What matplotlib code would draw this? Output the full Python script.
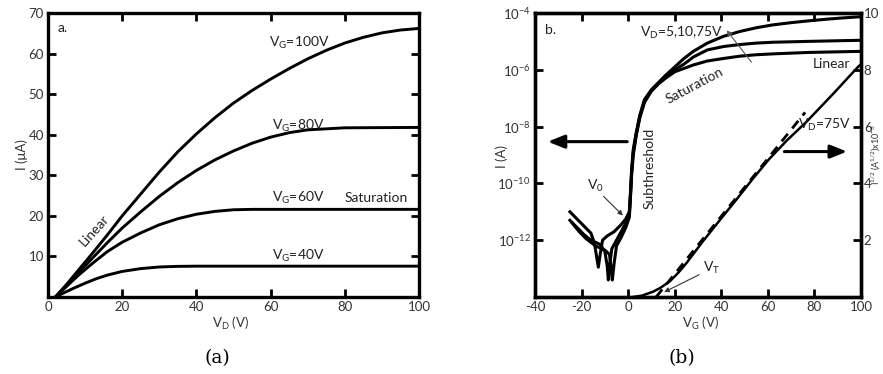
import matplotlib
matplotlib.use('Agg')
import matplotlib.pyplot as plt
import numpy as np

plt.rcParams['font.family'] = ['Lato', 'DejaVu Sans']
plt.rcParams['mathtext.fontset'] = 'custom'
plt.rcParams['mathtext.rm'] = 'Lato'
plt.rcParams['mathtext.it'] = 'Lato:italic'
plt.rcParams['mathtext.default'] = 'regular'
plt.rcParams['axes.unicode_minus'] = False

# ---- (a) output curves: I (uA) vs V_D (V) ----
vd_100 = [2, 5, 8, 12, 16, 20, 25, 30, 35, 40, 45, 50, 55, 60, 65, 70, 75, 80, 85, 90, 95, 100]
i_100 = [0, 3.1, 6.4, 10.8, 15.3, 20.0, 25.4, 30.8, 35.8, 40.2, 44.2, 47.8, 50.9, 53.7, 56.3, 58.7, 60.8, 62.6, 64.0, 65.1, 65.8, 66.2]
vd_80 = [2, 5, 8, 12, 16, 20, 25, 30, 35, 40, 45, 50, 55, 60, 65, 70, 80, 100]
i_80 = [0, 2.9, 5.8, 9.6, 13.4, 17.0, 21.0, 24.8, 28.2, 31.2, 33.8, 36.0, 37.9, 39.4, 40.5, 41.2, 41.7, 41.8]
vd_60 = [2, 5, 8, 12, 16, 20, 25, 30, 35, 40, 45, 50, 55, 100]
i_60 = [0, 2.6, 5.2, 8.3, 11.2, 13.5, 15.8, 17.8, 19.3, 20.4, 21.1, 21.5, 21.6, 21.6]
vd_40 = [2, 4, 7, 10, 13, 16, 20, 25, 30, 35, 40, 100]
i_40 = [0, 0.9, 2.2, 3.4, 4.5, 5.4, 6.3, 7.0, 7.4, 7.55, 7.6, 7.6]

# ---- (b) transfer curves, log10(I) vs V_G, for V_D = 75, 10, 5 V ----
vg_75 = [-25, -22, -19, -16, -14.5, -13.5, -12.8, -12, -11, -9, -6, -3, -1, 0.5, 1, 1.5, 2.2, 3.5, 5, 7, 10, 13, 16,
         20, 24, 28, 34, 41, 48, 55, 62, 70, 77, 85, 91, 100]
logi_75 = [-11.0, -11.25, -11.5, -11.75, -12.1, -12.6, -12.95, -12.5, -12.0, -11.85, -11.7, -11.45, -11.25, -11.0,
           -10.3, -9.5, -8.8, -8.2, -7.6, -7.05, -6.7, -6.45, -6.2,
           -5.9, -5.6, -5.35, -5.06, -4.82, -4.65, -4.52, -4.42, -4.34, -4.28, -4.22, -4.18, -4.13]
vg_10 = [-25, -22, -19, -16, -12, -10, -9, -8.5, -8, -7, -5, -3, -1, 0.5, 1, 1.5, 2.2, 3.5, 5, 7, 10, 13, 16,
         20, 24, 28, 34, 41, 48, 55, 62, 77, 100]
logi_10 = [-11.3, -11.55, -11.8, -12.0, -12.15, -12.4, -12.9, -13.4, -12.9, -12.3, -12.0, -11.7, -11.4, -11.1,
           -10.4, -9.6, -8.9, -8.25, -7.65, -7.1, -6.72, -6.48, -6.25,
           -6.0, -5.8, -5.55, -5.3, -5.18, -5.11, -5.06, -5.03, -5.0, -4.96]
vg_5 = [-24, -21, -18, -14, -10, -8, -7.3, -6.8, -6, -5, -3, -1, 0.5, 1, 1.5, 2.2, 3.5, 5, 7, 10, 13, 16,
        20, 24, 28, 34, 41, 48, 55, 62, 77, 100]
logi_5 = [-11.4, -11.7, -11.95, -12.2, -12.35, -12.5, -13.0, -13.4, -12.8, -12.2, -11.9, -11.55, -11.2,
          -10.5, -9.7, -9.0, -8.3, -7.7, -7.15, -6.75, -6.5, -6.3,
          -6.07, -5.95, -5.83, -5.69, -5.6, -5.52, -5.47, -5.44, -5.39, -5.35]

# sqrt(I) (A^1/2 x 1e-3) at V_D = 75 V and its linear fit
vg_sqrt = [2.2, 6, 10.8, 14, 18, 21.5, 25, 32, 39.4, 46.6, 53.7, 60.5, 68, 76.6, 88, 98.8, 100]
sqrt_i = [0, 0.05, 0.19, 0.33, 0.56, 0.85, 1.19, 1.95, 2.71, 3.44, 4.18, 4.85, 5.5, 6.17, 7.15, 8.11, 8.2]
vg_fit = [12, 76]
sqrt_fit = [0, 6.5]

SPINE_W = 2.4
TICK_KW = dict(direction='in', length=5.5, width=2.0, labelsize=9.5, labelcolor='#333333', pad=3)
LABEL_KW = dict(fontsize=9.5, color='#333333')

fig = plt.figure(figsize=(8.83, 3.74), dpi=100)
axA = fig.add_axes([48 / 883, 1 - 297 / 374, 371 / 883, 284 / 374])
axB = fig.add_axes([535 / 883, 1 - 297 / 374, 326 / 883, 284 / 374])

for ax in (axA, axB):
    for s in ax.spines.values():
        s.set_linewidth(SPINE_W)

# panel a
for vd, cur in ((vd_100, i_100), (vd_80, i_80), (vd_60, i_60), (vd_40, i_40)):
    axA.plot(vd, cur, color='black', lw=2.1, solid_capstyle='round', solid_joinstyle='round')
axA.set_xlim(0, 100)
axA.set_ylim(0, 70)
axA.set_xticks([0, 20, 40, 60, 80, 100])
axA.set_yticks([10, 20, 30, 40, 50, 60, 70])
axA.tick_params(**TICK_KW)
axA.tick_params(top=True, right=True)
fig.text(22 / 883, 1 - 155 / 374, 'I (\u03bcA)', rotation=90, ha='center', va='center', **LABEL_KW)
fig.text(231 / 883, 1 - 323 / 374, 'V$_\\mathrm{D}$ (V)', ha='center', va='center', **LABEL_KW)

txt = dict(fontsize=10, color='#222222', va='center')
axA.text(2.7, 66.3, 'a.', ha='left', **txt)
axA.text(59.5, 62.5, 'V$_\\mathrm{G}$=100V', ha='left', **txt)
axA.text(60.5, 42.2, 'V$_\\mathrm{G}$=80V', ha='left', **txt)
axA.text(60.5, 24.3, 'V$_\\mathrm{G}$=60V', ha='left', **txt)
axA.text(80, 24.3, 'Saturation', ha='left', **txt)
axA.text(60.5, 10.0, 'V$_\\mathrm{G}$=40V', ha='left', **txt)
axA.text(12.4, 16.3, 'Linear', ha='center', rotation=48, **txt)

# panel b
axB.set_yscale('log')
for vg, lg in ((vg_75, logi_75), (vg_10, logi_10), (vg_5, logi_5)):
    axB.plot(vg, 10.0 ** np.array(lg), color='black', lw=2.2, solid_joinstyle='round')
axB.set_xlim(-40, 100)
axB.set_ylim(1e-14, 1e-4)
axB.set_xticks([-40, -20, 0, 20, 40, 60, 80, 100])
axB.set_yticks([1e-12, 1e-10, 1e-8, 1e-6, 1e-4])
axB.yaxis.set_minor_locator(matplotlib.ticker.NullLocator())
axB.tick_params(**TICK_KW)
axB.tick_params(axis='x', top=True)

axR = axB.twinx()
axR.plot(vg_sqrt, sqrt_i, color='black', lw=1.8, solid_joinstyle='round')
axR.plot(vg_fit, sqrt_fit, color='black', lw=2.0, dashes=(3.5, 2.5))
axR.set_ylim(0, 10)
axR.set_yticks([2, 4, 6, 8, 10])
axR.tick_params(**TICK_KW)
axR.tick_params(axis='y', pad=2)
for s in axR.spines.values():
    s.set_linewidth(SPINE_W)

fig.text(502 / 883, 1 - 157 / 374, 'I (A)', rotation=90, ha='center', va='center', **LABEL_KW)
fig.text(700 / 883, 1 - 323 / 374, 'V$_\\mathrm{G}$ (V)', ha='center', va='center', **LABEL_KW)
fig.text(876.6 / 883, 1 - 155 / 374, 'I$^{1/2}$ (A$^{1/2}$)x10$^{-3}$', rotation=90, ha='center', va='center',
         fontsize=6.5, color='#333333')

axB.text(-35.7, 10 ** -4.59, 'b.', ha='left', **txt)
axB.text(23, 10 ** -4.7, 'V$_\\mathrm{D}$=5,10,75V', ha='center', **txt)
axB.text(95.2, 10 ** -5.81, 'Linear', ha='right', **txt)
axB.text(28.7, 10 ** -6.54, 'Saturation', ha='center', rotation=28, **txt)
axB.text(9.4, 10 ** -9.46, 'Subthreshold', ha='center', rotation=90, **txt)
axR.text(95.6, 6.06, 'V$_\\mathrm{D}$=75V', ha='right', **txt)
axB.text(-14.2, 10 ** -10.1, 'V$_\\mathrm{0}$', ha='center', **txt)
axR.text(35.6, 1.02, 'V$_\\mathrm{T}$', ha='center', **txt)

# arrows
axB.annotate('', xy=(41.6, 10 ** -4.53), xytext=(53.7, 10 ** -5.81),
             arrowprops=dict(arrowstyle='-|>', lw=0.8, color='#555555', mutation_scale=8))
axB.annotate('', xy=(-1.4, 10 ** -11.2), xytext=(-11.4, 10 ** -10.39),
             arrowprops=dict(arrowstyle='-|>', lw=0.8, color='#333333', mutation_scale=7))
axR.annotate('', xy=(14.4, 0.13), xytext=(31.6, 0.83),
             arrowprops=dict(arrowstyle='-|>', lw=0.8, color='#333333', mutation_scale=7))
axB.annotate('', xy=(-35.7, 10 ** -8.53), xytext=(0.8, 10 ** -8.53),
             arrowprops=dict(arrowstyle='-|>,head_length=1.0,head_width=0.4', lw=2.2, color='black', mutation_scale=10))
axR.annotate('', xy=(95.2, 5.12), xytext=(65.9, 5.12),
             arrowprops=dict(arrowstyle='-|>,head_length=1.0,head_width=0.4', lw=2.2, color='black', mutation_scale=10))

# sub-figure captions
fig.text(217 / 883, 1 - 358 / 374, '(a)', ha='center', va='center', family='DejaVu Serif', fontsize=13.5)
fig.text(682 / 883, 1 - 358 / 374, '(b)', ha='center', va='center', family='DejaVu Serif', fontsize=13.5)

fig.savefig('out.png', dpi=100)
